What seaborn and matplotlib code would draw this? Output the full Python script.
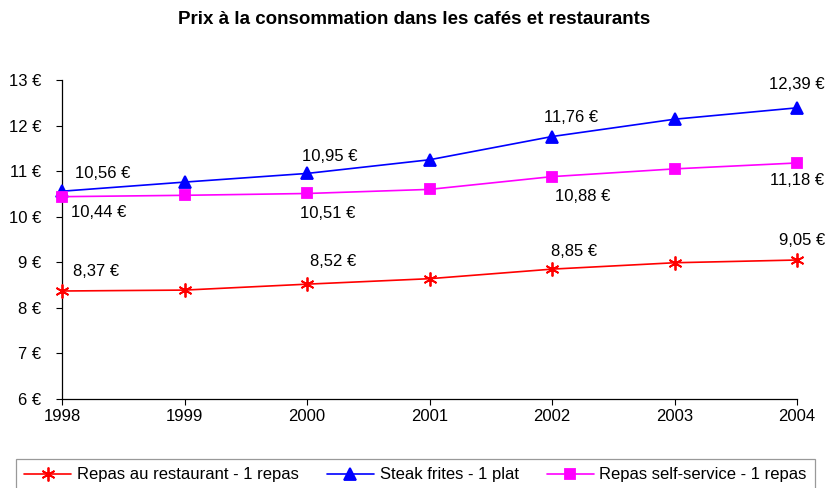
import matplotlib
matplotlib.use("Agg")
import matplotlib.pyplot as plt
import seaborn as sns
import pandas as pd

# Data
years = [1998, 1999, 2000, 2001, 2002, 2003, 2004]
restaurant = [8.37, 8.39, 8.52, 8.64, 8.85, 8.99, 9.05]
steak = [10.56, 10.76, 10.95, 11.25, 11.76, 12.14, 12.39]
self_service = [10.44, 10.47, 10.51, 10.60, 10.88, 11.05, 11.18]

names = ["Repas au restaurant - 1 repas", "Steak frites - 1 plat", "Repas self-service - 1 repas"]
colors = ["#ff0000", "#0000ff", "#ff00ff"]
markers = [(6, 2, 0), "^", "s"]
sizes = [10, 8, 7]

sns.set_style("white")
plt.rcParams["font.family"] = ["Liberation Sans", "DejaVu Sans"]
plt.rcParams["text.color"] = "black"

fig = plt.figure(figsize=(8.28, 4.88), dpi=100)
ax = fig.add_axes([0.0749, 0.1824, 0.8877, 0.6536])

# one lineplot call per series (seaborn won't mix filled and line markers)
for name, vals, c, m, ms in zip(names, [restaurant, steak, self_service], colors, markers, sizes):
    d = pd.DataFrame({"annee": years, "prix": vals})
    sns.lineplot(data=d, x="annee", y="prix", color=c, marker=m, markersize=ms,
                 markeredgecolor=c, markerfacecolor=c, markeredgewidth=1.3,
                 linewidth=1.2, ax=ax, label=name, clip_on=False, zorder=3)

ax.set_xlim(1998, 2004)
ax.set_ylim(6, 13)
ax.set_xticks(years)
ax.set_xticklabels([str(y) for y in years], fontsize=12)
ax.set_yticks(range(6, 14))
ax.set_yticklabels([f"{v} €" for v in range(6, 14)], fontsize=12)
ax.tick_params(axis="both", direction="out", length=4, width=0.8, color="black",
               labelcolor="black", bottom=True, left=True)
ax.tick_params(axis="y", pad=11)
ax.set_xlabel("")
ax.set_ylabel("")
for s in ["top", "right"]:
    ax.spines[s].set_visible(False)
for s in ["left", "bottom"]:
    ax.spines[s].set_color("black")
    ax.spines[s].set_linewidth(0.9)

def fmt(v):
    return f"{v:.2f}".replace(".", ",") + " €"

# data labels (every other year), offsets in pixels
lab_idx = [0, 2, 4, 6]
steak_off = [(41, 18), (23, 17), (19, 19), (0, 23)]
self_off = [(37, -16), (21, -20), (31, -20), (0, -18)]
rest_off = [(34, 19), (26, 23), (22, 18), (5, 20)]
for series, offs in [(steak, steak_off), (self_service, self_off), (restaurant, rest_off)]:
    for i, (dx, dy) in zip(lab_idx, offs):
        ax.annotate(fmt(series[i]), (years[i], series[i]), xytext=(dx, dy),
                    textcoords="offset pixels", ha="center", va="center",
                    fontsize=12, annotation_clip=False)

fig.suptitle("Prix à la consommation dans les cafés et restaurants",
             fontsize=13.5, fontweight="bold", y=0.978)

handles, labels = ax.get_legend_handles_labels()
ax.get_legend().remove()
leg = fig.legend(handles, labels, loc="upper left", bbox_to_anchor=(16 / 828, 1 - 459 / 488),
                 borderaxespad=0, ncol=3, frameon=True, fancybox=False, fontsize=12,
                 handlelength=2.8, handletextpad=0.35, columnspacing=1.7,
                 borderpad=0.5)
leg.get_frame().set_edgecolor("#808080")
leg.get_frame().set_linewidth(0.9)

fig.savefig("out.png", dpi=100)
